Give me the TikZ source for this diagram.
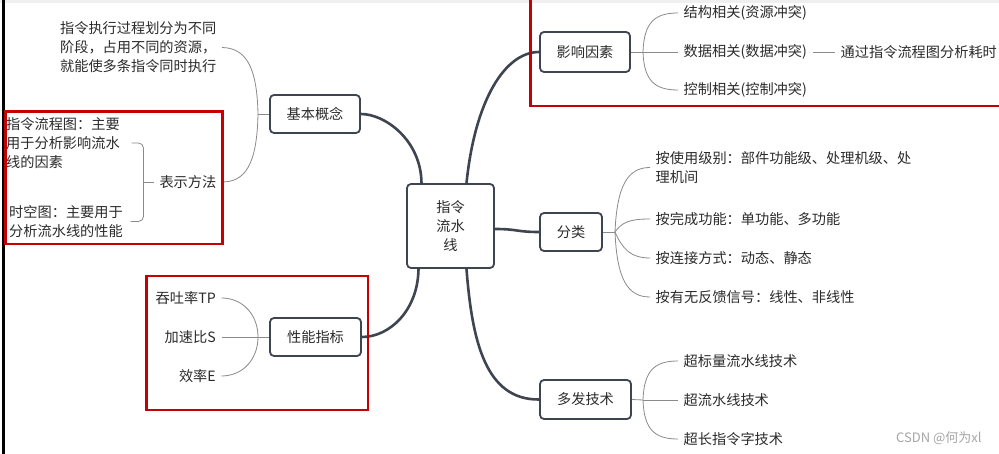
\documentclass[tikz,border=0pt]{standalone}
\usepackage{fontspec}
\setmainfont{Noto Sans CJK SC}
\definecolor{txt}{HTML}{2B2B2B}
\definecolor{boxline}{HTML}{3E4450}
\definecolor{thin}{HTML}{8A8A8A}
\definecolor{redbox}{HTML}{C40000}
\definecolor{wm}{HTML}{A6A6A6}
\definecolor{topgray}{HTML}{EFEFEF}
\begin{document}
\begin{tikzpicture}[x=1pt,y=-1pt,
  topic/.style={draw=boxline, line width=1.8pt, rounded corners=4pt, fill=white, text=txt,
    font=\fontsize{14.2}{19}\selectfont, inner sep=0pt, align=center},
  leaf/.style={text=txt, font=\fontsize{14.2}{19}\selectfont, inner xsep=5.5pt, inner ysep=0pt},
  mainline/.style={draw=boxline, line width=2.6pt},
  thinline/.style={draw=thin, line width=0.8pt},
  redframe/.style={draw=redbox, line width=2.5pt}]
\useasboundingbox (0,0) rectangle (999,454);
\fill[white] (0,0) rectangle (999,454);
\fill[topgray] (0,0) rectangle (999,3.3);
\fill[black] (1.5,0) rectangle (4.5,454);

% topics
\node[topic, minimum width=87pt, minimum height=84pt] (c) at (450.5,226) {指令\\流水\\线};
\node[topic, minimum width=90pt, minimum height=38pt] (jb) at (315,114) {基本概念};
\node[topic, minimum width=90pt, minimum height=40pt] (yx) at (585,52) {影响因素};
\node[topic, minimum width=62pt, minimum height=38pt] (fl) at (571,232) {分类};
\node[topic, minimum width=91pt, minimum height=38pt] (xn) at (315.5,337) {性能指标};
\node[topic, minimum width=91pt, minimum height=39pt] (df) at (585.5,399.5) {多发技术};

% main connectors
\draw[mainline] ([xshift=-29pt]c.north) .. controls (421,140) and (385,114) .. (jb.east);
\draw[mainline] ([xshift=16pt]c.north) .. controls (475,100) and (505,52) .. (yx.west);
\draw[mainline] ([yshift=-3pt]c.east) .. controls (518,229) and (516,232) .. (fl.west);
\draw[mainline] ([xshift=-32pt]c.south) .. controls (418,310) and (390,337) .. (xn.east);
\draw[mainline] ([xshift=16pt]c.south) .. controls (472,340) and (485,400) .. (df.west);

% 基本概念 branch
\node[leaf, anchor=east, align=left] (l1) at (222,47.5) {指令执行过程划分为不同\\阶段，占用不同的资源，\\就能使多条指令同时执行};
\node[leaf, anchor=east] (bs) at (222,182) {表示方法};
\coordinate (jbj) at (258,114);
\draw[thinline] (jb.west) -- (jbj);
\draw[thinline] (jbj) .. controls (257,65) and (245,48) .. (l1.east);
\draw[thinline] (jbj) .. controls (257,165) and (245,182) .. (bs.east);
\node[leaf, anchor=west, align=left] (z1) at (0.5,143) {指令流程图：主要\\用于分析影响流水\\线的因素};
\node[leaf, anchor=west, align=left] (z2) at (3.5,221.5) {时空图：主要用于\\分析流水线的性能};
\coordinate (bsj) at (143.5,182);
\draw[thinline] (bs.west) -- (bsj);
\draw[thinline, rounded corners=5pt] ([xshift=6pt]z1.east) -- (143.5,143) -- (143.5,221.5) -- ([xshift=2pt]z2.east);

% 影响因素 branch
\node[leaf, anchor=west] (r1) at (678,13) {结构相关(资源冲突)};
\node[leaf, anchor=west] (r2) at (678,52) {数据相关(数据冲突)};
\node[leaf, anchor=west] (r3) at (678,90) {控制相关(控制冲突)};
\node[leaf, anchor=west] (r4) at (835,52) {通过指令流程图分析耗时};
\coordinate (yxj) at (643,52);
\draw[thinline] (yx.east) -- (yxj);
\draw[thinline] (yxj) .. controls (644,22) and (655,13) .. (r1.west);
\draw[thinline] (yxj) -- (r2.west);
\draw[thinline] (yxj) .. controls (644,81) and (655,90) .. (r3.west);
\draw[thinline] (r2.east) -- (r4.west);

% 分类 branch
\node[leaf, anchor=west, align=left] (c1) at (650,167.5) {按使用级别：部件功能级、处理机级、处\\理机间};
\node[leaf, anchor=west] (c2) at (650,219) {按完成功能：单功能、多功能};
\node[leaf, anchor=west] (c3) at (650,258) {按连接方式：动态、静态};
\node[leaf, anchor=west] (c4) at (650,297) {按有无反馈信号：线性、非线性};
\coordinate (flj) at (615,232);
\draw[thinline] (fl.east) -- (flj);
\draw[thinline] (flj) .. controls (617,185) and (628,167.5) .. (c1.west);
\draw[thinline] (flj) .. controls (622,222) and (630,219) .. (c2.west);
\draw[thinline] (flj) .. controls (622,248) and (630,258) .. (c3.west);
\draw[thinline] (flj) .. controls (617,280) and (628,297) .. (c4.west);

% 性能指标 branch
\node[leaf, anchor=east] (p1) at (221.5,298) {吞吐率TP};
\node[leaf, anchor=east] (p2) at (221.5,337) {加速比S};
\node[leaf, anchor=east] (p3) at (221.5,376) {效率E};
\coordinate (xnj) at (258,337);
\draw[thinline] (xn.west) -- (xnj);
\draw[thinline] (xnj) .. controls (258,315) and (243,298) .. (p1.east);
\draw[thinline] (xnj) -- (p2.east);
\draw[thinline] (xnj) .. controls (258,359) and (243,376) .. (p3.east);

% 多发技术 branch
\node[leaf, anchor=west] (m1) at (678,361) {超标量流水线技术};
\node[leaf, anchor=west] (m2) at (678,400) {超流水线技术};
\node[leaf, anchor=west] (m3) at (678,439) {超长指令字技术};
\coordinate (dfj) at (643,400);
\draw[thinline] (df.east) -- (dfj);
\draw[thinline] (dfj) .. controls (644,370) and (655,361) .. (m1.west);
\draw[thinline] (dfj) -- (m2.west);
\draw[thinline] (dfj) .. controls (644,430) and (655,439) .. (m3.west);

% red frames
\draw[redframe] (5.5,111.5) rectangle (222.5,244);
\draw[redframe] (530.5,-5) rectangle (1005,106);
\draw[redframe] (146.5,276) rectangle (368,410);

% watermark
\node[anchor=west, inner sep=0pt, text=wm, font=\fontsize{13}{15}\selectfont] (wmk) at (896,438) {CSDN @何为xl};
\end{tikzpicture}
\end{document}
